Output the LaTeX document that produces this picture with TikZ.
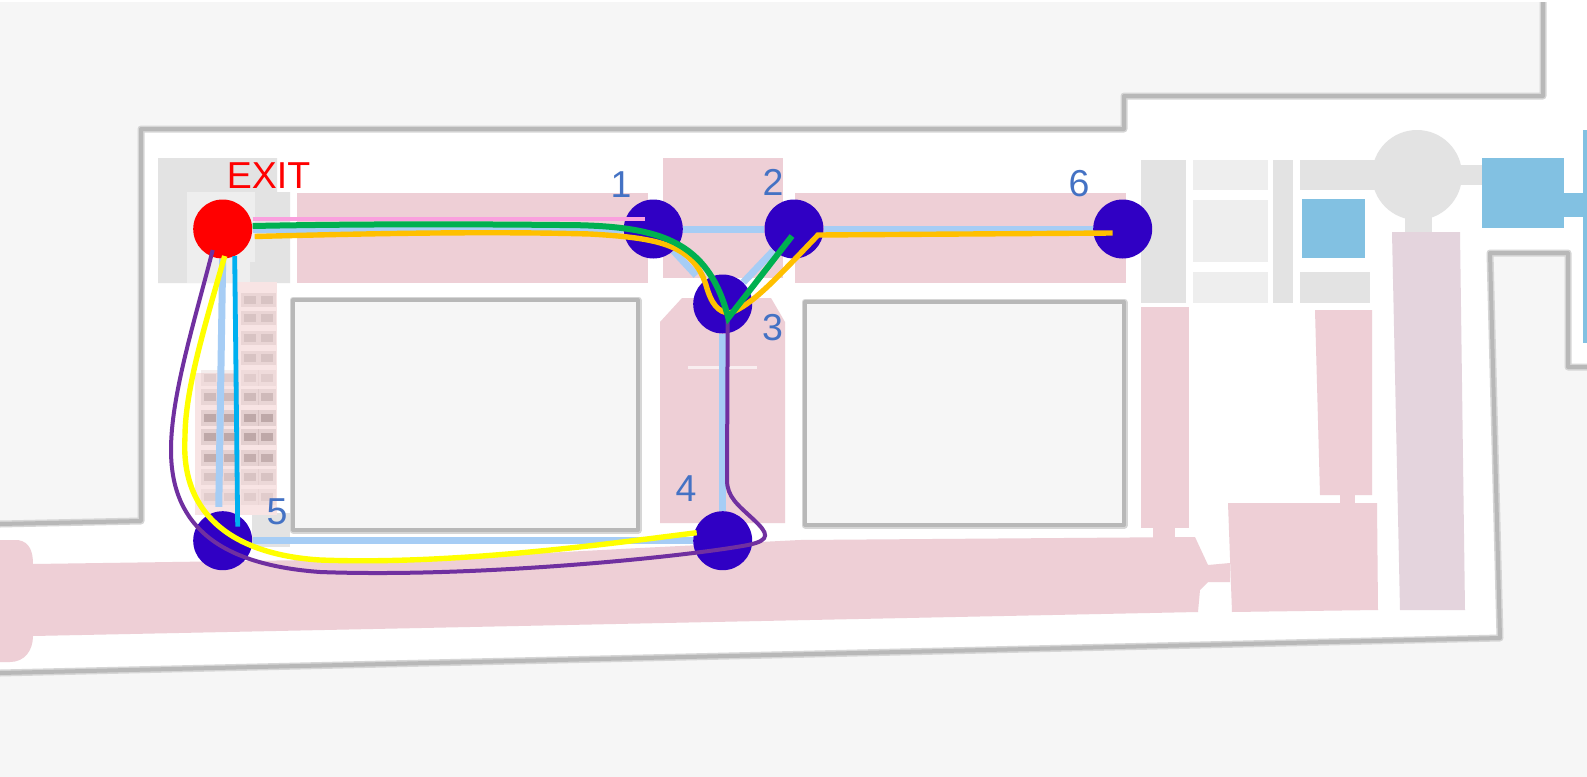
\documentclass[tikz,border=0pt]{standalone}
\usepackage{fontspec}
\setmainfont{Liberation Sans}
\definecolor{outside}{RGB}{246,246,246}
\definecolor{wallgrey}{RGB}{184,184,184}
\definecolor{wallsoft}{RGB}{214,214,214}
\definecolor{roompink}{RGB}{238,207,214}
\definecolor{roomlilac}{RGB}{228,212,221}
\definecolor{roomgrey}{RGB}{227,227,227}
\definecolor{roomlight}{RGB}{238,238,238}
\definecolor{roomblue}{RGB}{130,193,226}
\definecolor{stairpink}{RGB}{248,228,228}
\definecolor{stairdark}{RGB}{190,168,168}
\definecolor{corridorblue}{RGB}{166,205,245}
\definecolor{stopblue}{RGB}{48,0,196}
\definecolor{numberblue}{RGB}{68,114,196}
\definecolor{routepink}{RGB}{250,160,222}
\definecolor{routegreen}{RGB}{0,176,80}
\definecolor{routeorange}{RGB}{255,192,0}
\definecolor{routepurple}{RGB}{112,48,160}
\definecolor{routeyellow}{RGB}{255,255,0}
\definecolor{routecyan}{RGB}{0,176,240}
\pgfdeclarelayer{floor}
\pgfsetlayers{floor,main}
\tikzset{
  wallsoftline/.style={draw=wallsoft,line width=3.5pt,line join=round},
  wallline/.style={draw=wallgrey,line width=2pt,line join=round},
  pinkroom/.style={fill=roompink},
  stopnode/.style={circle,fill=stopblue,minimum size=29.5pt,inner sep=0pt},
  exitnode/.style={stopnode,fill=red},
  numlabel/.style={text=numberblue,font=\fontsize{18.75}{20}\selectfont,inner sep=0pt},
  corridor/.style={draw=corridorblue,line width=3.5pt},
  routeline/.style={line width=2.7pt},
}
\begin{document}
\begin{tikzpicture}[x=0.5pt,y=-0.5pt]
\useasboundingbox (0,0) rectangle (1587,777);
\node[exitnode] (exit) at (222.7,229) {};
\node[stopnode] (n1) at (653.3,229) {};
\node[stopnode] (n2) at (794,229) {};
\node[stopnode] (n3) at (722.7,304) {};
\node[stopnode] (n4) at (722.7,540.7) {};
\node[stopnode] (n5) at (222.7,540.7) {};
\node[stopnode] (n6) at (1122.7,229) {};
\begin{pgfonlayer}{floor}
% ground and walls
\fill[white] (0,0) rectangle (1587,777);
\fill[outside] (0,2) rectangle (1587,777);
\fill[white] (1543,2) -- (1543,96) -- (1124,96) -- (1124,129) -- (141,129) -- (141,521) -- (0,524)
  -- (0,673) -- (1500,638) -- (1490,253) -- (1568,253) -- (1568,367) -- (1587,367) -- (1587,2) -- cycle;
\foreach \look in {wallsoftline,wallline} {
  \draw[\look] (1543,2) -- (1543,96) -- (1124,96) -- (1124,129) -- (141,129) -- (141,521) -- (0,524);
  \draw[\look] (0,673) -- (1500,638) -- (1490,253) -- (1568,253) -- (1568,367) -- (1587,367);
  \draw[\look,fill=outside] (293,300) rectangle (638,530);
  \draw[\look,fill=outside] (805,302) rectangle (1124,525);
}
% grey rooms
\fill[roomgrey] (158,158) -- (277,158) -- (277,192) -- (290,192) -- (290,283) -- (158,283) -- cycle;
\fill[roomlight] (187,192) rectangle (255,262);
\fill[roomlight] (187,262) rectangle (250,283);
\fill[roomgrey] (252,513) rectangle (290,547);
\fill[roomgrey] (1141,160) rectangle (1186,303);
\foreach \ya/\yb in {160/190,200/262,272/303} {
  \fill[roomlight] (1193,\ya) rectangle (1268,\yb);
}
\fill[roomgrey] (1273,160) rectangle (1293,303);
\fill[roomgrey] (1300,160) rectangle (1385,190);
\fill[roomgrey] (1300,272) rectangle (1370,303);
\fill[roomgrey] (1417,175) circle (45);
\fill[roomgrey] (1405,210) rectangle (1432,234);
\fill[roomgrey] (1455,165) rectangle (1484,185);
% blue rooms
\fill[roomblue] (1302,199) rectangle (1365,258);
\fill[roomblue] (1482,158) rectangle (1564,228);
\fill[roomblue] (1564,193) rectangle (1587,217);
\fill[roomblue] (1583,130) rectangle (1587,343);
% pink rooms
\fill[pinkroom] (297,193) rectangle (648,283);
\fill[pinkroom] (663,158) rectangle (783,278);
\fill[pinkroom] (795,193) rectangle (1126,283);
\fill[pinkroom] (660,322) -- (682,298) -- (771,298) -- (785,322) -- (785,523) -- (660,523) -- cycle;
\draw[white,opacity=.65,line width=1.5pt] (688,367) -- (757,367);
\fill[pinkroom] (0,540) -- (18,540) .. controls (30,542) and (33,552) .. (33,564) -- (450,558) -- (640,548)
  -- (800,540) -- (1195,537) -- (1208,565) -- (1230,563) -- (1230,582) -- (1208,582) -- (1200,590) -- (1198,612)
  -- (33,636) .. controls (33,650) and (25,662) .. (10,662) -- (0,662) -- cycle;
\fill[pinkroom] (1228,503) -- (1377,503) -- (1378,610) -- (1232,612) -- cycle;
\fill[pinkroom] (1141,307) rectangle (1189,528);
\fill[pinkroom] (1153,528) rectangle (1175,540);
\fill[pinkroom] (1315,310) -- (1372,310) -- (1372,495) -- (1320,495) -- cycle;
\fill[pinkroom] (1340,495) rectangle (1355,503);
\fill[roomlilac] (1392,232) -- (1460,232) -- (1465,610) -- (1400,610) -- cycle;
% stairs beside the exit
\fill[stairpink] (237,282) rectangle (277,373);
\fill[stairpink] (195,373) rectangle (277,515);
\foreach \y in {300,318,338,358} {
  \foreach \x in {250,267} {
    \fill[stairdark!25!stairpink] (\x-9,\y-7) rectangle (\x+9,\y+7);
    \fill[stairdark!55!stairpink] (\x-6,\y-4) rectangle (\x+6,\y+4);
  }
}
\foreach \y/\shade in {378/40,397/70,418/100,437/100,458/90,477/55,497/40} {
  \foreach \x in {210,230,250,267} {
    \fill[stairdark!\shade!stairpink,opacity=.35] (\x-9,\y-8) rectangle (\x+9,\y+8);
    \fill[stairdark!\shade!stairpink] (\x-6,\y-4) rectangle (\x+6,\y+4);
  }
}
% corridors under the stops
\draw[corridor] (exit) -- (n1);
\draw[corridor] (n1) -- (n2);
\draw[corridor] (n2) -- (n6);
\draw[corridor,shorten >=4.5pt] (n1) -- (n3);
\draw[corridor] (n2) -- (n3);
\draw[corridor] (n3) -- (n4);
\draw[corridor] (n4) -- (n5);
\draw[corridor,shorten >=2pt] (exit.south) -- ([xshift=-2pt]n5.north);
\end{pgfonlayer}
% labels
\node[text=red,font=\fontsize{18.75}{20}\selectfont,inner sep=0pt] (exitname) at (268.5,176) {EXIT};
\node[numlabel] (num1) at (621,185) {1};
\node[numlabel] (num2) at (773,182) {2};
\node[numlabel] (num3) at (772.5,328) {3};
\node[numlabel] (num4) at (686,489) {4};
\node[numlabel] (num5) at (277,512) {5};
\node[numlabel] (num6) at (1079,184) {6};
% routes
\draw[routeline,routepink,line width=2.4pt] ([shift={(30,-10)}]exit.center) -- ([shift={(-8,-10)}]n1.center);
\draw[routeline,routecyan,line width=2.4pt] ([shift={(12,27)}]exit.center) -- ([shift={(15,-14)}]n5.center);
\draw[routeline,routepurple,line width=2pt] ([shift={(-10,21)}]exit.center)
  .. controls (195,320) and (171,395) .. (171,450)
  .. controls (171,530) and (225,565) .. (320,572)
  .. controls (480,578) and (690,556) .. (748,545)
  .. controls (772,540) and (768,533) .. (753,519)
  .. controls (738,505) and (727,497) .. (727,480)
  -- ([shift={(5,16)}]n3.center);
\draw[routeline,routeyellow] ([shift={(2,27)}]exit.center)
  .. controls (205,325) and (185,390) .. (185,437)
  .. controls (180,520) and (240,555) .. (320,560)
  .. controls (450,565) and (600,545) .. ([shift={(-26,-8)}]n4.center);
\draw[routeline,routeorange] ([shift={(32,7.5)}]exit.center)
  .. controls (350,234) and (480,231) .. (590,234)
  .. controls (660,238) and (693,245) .. (706,285)
  .. controls (711,303) and (718,313) .. (730,313)
  .. controls (752,305) and (775,280) .. ([shift={(24,6)}]n2.center)
  -- ([shift={(-10,4)}]n6.center);
\draw[routeline,routegreen,line width=3pt] ([shift={(30,-3)}]exit.center)
  .. controls (350,224) and (460,224) .. (560,225)
  .. controls (660,225) and (708,240) .. ([shift={(5.6,14)}]n3.center)
  -- ([shift={(-2,7)}]n2.center);
\end{tikzpicture}
\end{document}
